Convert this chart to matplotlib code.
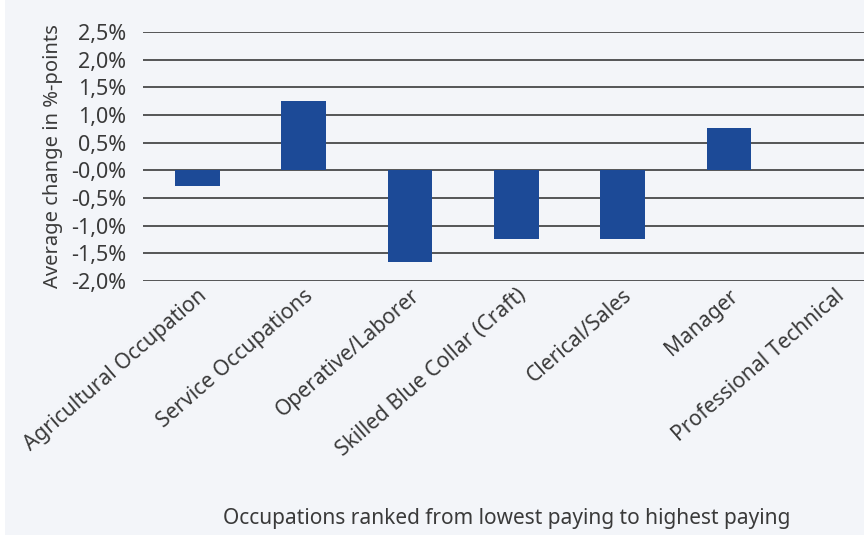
import matplotlib
matplotlib.use("Agg")
import matplotlib.pyplot as plt
from matplotlib.patches import Rectangle
from matplotlib.ticker import FuncFormatter

# Occupations, ranked from lowest to highest paying.
occupations = [
    "Agricultural Occupation",
    "Service Occupations",
    "Operative/Laborer",
    "Skilled Blue Collar (Craft)",
    "Clerical/Sales",
    "Manager",
    "Professional Technical",
]
# Average change in %-points.
changes = [-0.29, 1.26, -1.66, -1.25, -1.25, 0.76, 0.0]
y_ticks = [-2.0, -1.5, -1.0, -0.5, 0.0, 0.5, 1.0, 1.5, 2.0, 2.5]

BG = "#F3F5F9"
BAR = "#1C4A97"
TEXT = "#3A3A3A"

plt.rcParams["font.family"] = ["Noto Sans", "DejaVu Sans"]

fig = plt.figure(figsize=(8.64, 5.35), dpi=100, facecolor=BG)
fig.patches.append(Rectangle((0, 0), 5 / 864, 1, transform=fig.transFigure,
                             facecolor="white", edgecolor="none", zorder=-1))
ax = fig.add_axes([143 / 864, 1 - 281 / 535, 1 - 143 / 864, (281 - 32) / 535])
ax.set_facecolor(BG)

x = range(len(occupations))
ax.bar(x, changes, width=0.42, color=BAR, zorder=3)

ax.set_ylim(-2.0, 2.5)
ax.set_xlim(-0.51, 6.27)
ax.set_yticks(y_ticks)
ax.yaxis.set_major_formatter(FuncFormatter(
    lambda v, _: ("-" if v <= 0 else "") + f"{abs(v):.1f}%".replace(".", ",")))
ax.grid(axis="y", color="#2A2A2A", linewidth=1.1, zorder=1)
ax.set_axisbelow(True)
for spine in ax.spines.values():
    spine.set_visible(False)
ax.tick_params(axis="both", length=0, colors=TEXT, labelsize=15.5)
ax.tick_params(axis="y", pad=12)

# Rotated category labels, anchored at their upper-right end.
ax.set_xticks(list(x))
ax.set_xticklabels(occupations, rotation=41, ha="right",
                   rotation_mode="anchor", fontsize=15.2)
ax.tick_params(axis="x", pad=3)

ax.set_ylabel("Average change in %-points", fontsize=14.5, color=TEXT,
              labelpad=6)
fig.text(0.587, 0.012, "Occupations ranked from lowest paying to highest paying",
         ha="center", va="bottom", fontsize=15, color=TEXT)

fig.savefig("out.png", dpi=100, facecolor=BG)
